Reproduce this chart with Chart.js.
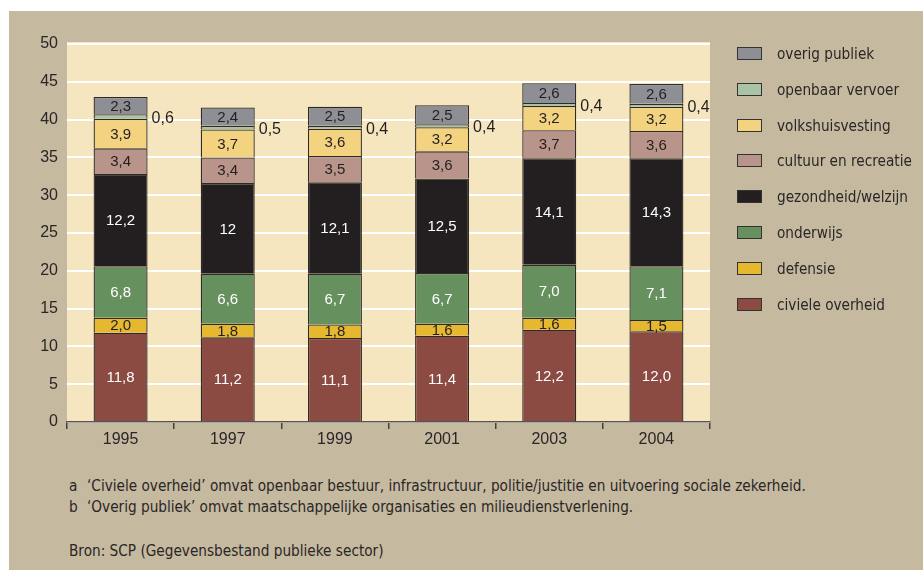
<!DOCTYPE html>
<html>
<head>
<meta charset="utf-8">
<script src="https://cdn.jsdelivr.net/npm/chart.js@4.4.1/dist/chart.umd.min.js"></script>
<style>
  html, body { margin: 0; padding: 0; background: #ffffff; }
  body { width: 923px; height: 570px; position: relative; overflow: hidden; font-family: "Liberation Sans", Arial, sans-serif; }
  #panel { position: absolute; left: 9px; top: 11px; width: 914px; height: 559px; background: #c5b9a0; }
  #wrap { position: absolute; left: 0; top: 0; width: 914px; height: 450px; }
  .legend-item { position: absolute; left: 728px; height: 20px; line-height: 20px; color: #2a2626; white-space: nowrap; font-family: "DejaVu Sans Condensed", "Liberation Sans", sans-serif; }
  .legend-box { position: absolute; left: 0; top: 3px; width: 23px; height: 11px; border: 1.5px solid #333; }
  .legend-text { position: absolute; left: 40px; top: 0; font-size: 15.2px; }
  .note { position: absolute; font-family: "DejaVu Sans Condensed", "Liberation Sans", sans-serif; font-size: 15.2px; color: #2a2626; white-space: nowrap; line-height: 20px; }
</style>
</head>
<body>
<div id="panel">
  <div id="wrap"><canvas id="c" width="914" height="450"></canvas></div>
  <div id="legend"></div>
  <div class="note" style="left:60px; top:465px;">a</div>
  <div class="note" style="left:78px; top:465px;">‘Civiele overheid’ omvat openbaar bestuur, infrastructuur, politie/justitie en uitvoering sociale zekerheid.</div>
  <div class="note" style="left:60px; top:486px;">b</div>
  <div class="note" style="left:78px; top:486px;">‘Overig publiek’ omvat maatschappelijke organisaties en milieudienstverlening.</div>
  <div class="note" style="left:60px; top:530px;">Bron: SCP (Gegevensbestand publieke sector)</div>
</div>
<script>
// ---- data ----
const years = ['1995', '1997', '1999', '2001', '2003', '2004'];
const civieleOverheid   = [11.8, 11.2, 11.1, 11.4, 12.2, 12.0];
const defensie          = [2.0, 1.8, 1.8, 1.6, 1.6, 1.5];
const onderwijs         = [6.8, 6.6, 6.7, 6.7, 7.0, 7.1];
const gezondheidWelzijn = [12.2, 12, 12.1, 12.5, 14.1, 14.3];
const cultuurRecreatie  = [3.4, 3.4, 3.5, 3.6, 3.7, 3.6];
const volkshuisvesting  = [3.9, 3.7, 3.6, 3.2, 3.2, 3.2];
const openbaarVervoer   = [0.6, 0.5, 0.4, 0.4, 0.4, 0.4];
const overigPubliek     = [2.3, 2.4, 2.5, 2.5, 2.6, 2.6];
const yTicks = [0, 5, 10, 15, 20, 25, 30, 35, 40, 45, 50];
// labels printed without decimal in the source
const printedAsInteger = [{ series: 'gezondheid/welzijn', year: '1997' }];

const seriesDefs = [
  { label: 'civiele overheid',     data: civieleOverheid,   color: '#8b4a42', text: '#ffffff' },
  { label: 'defensie',             data: defensie,          color: '#e6b830', text: '#231f20' },
  { label: 'onderwijs',            data: onderwijs,         color: '#66915f', text: '#ffffff' },
  { label: 'gezondheid/welzijn',   data: gezondheidWelzijn, color: '#231f20', text: '#ffffff' },
  { label: 'cultuur en recreatie', data: cultuurRecreatie,  color: '#b9948a', text: '#231f20' },
  { label: 'volkshuisvesting',     data: volkshuisvesting,  color: '#f3d37f', text: '#231f20' },
  { label: 'openbaar vervoer',     data: openbaarVervoer,   color: '#a9c4a5', text: '#231f20', outside: true },
  { label: 'overig publiek',       data: overigPubliek,     color: '#8e8f94', text: '#231f20' }
];

function fmt(v, series, year) {
  if (printedAsInteger.some(p => p.series === series && p.year === year)) return String(Math.round(v));
  return v.toFixed(1).replace('.', ',');
}

const bgPlugin = {
  id: 'plotBg',
  beforeDraw(chart) {
    const a = chart.chartArea, ctx = chart.ctx;
    ctx.save();
    ctx.fillStyle = '#f5e6bf';
    ctx.fillRect(a.left, a.top - 2, a.right - a.left, a.bottom - a.top + 2);
    ctx.restore();
  }
};

const labelPlugin = {
  id: 'segLabels',
  afterDatasetsDraw(chart) {
    const ctx = chart.ctx;
    ctx.save();
    chart.data.datasets.forEach((ds, di) => {
      const meta = chart.getDatasetMeta(di);
      meta.data.forEach((bar, i) => {
        const v = ds.data[i];
        const txt = fmt(v, ds.label, years[i]);
        const yMid = (bar.y + bar.base) / 2;
        ctx.fillStyle = ds._text;
        ctx.textBaseline = 'middle';
        if (ds._outside) {
          ctx.font = '16px "Liberation Sans", Arial, sans-serif';
          ctx.textAlign = 'left';
          ctx.fillText(txt, bar.x + bar.width / 2 + 4, yMid + 2);
        } else {
          ctx.font = '15px "Liberation Sans", Arial, sans-serif';
          ctx.textAlign = 'center';
          ctx.fillText(txt, bar.x, yMid + 1);
        }
      });
    });
    ctx.restore();
  }
};

new Chart(document.getElementById('c'), {
  type: 'bar',
  data: {
    labels: years,
    datasets: seriesDefs.map(s => ({
      label: s.label,
      data: s.data,
      backgroundColor: s.color,
      borderColor: '#2e2a2a',
      borderWidth: 1.3,
      borderSkipped: 'bottom',
      barPercentage: 1,
      categoryPercentage: 0.504,
      _text: s.text,
      _outside: !!s.outside
    }))
  },
  options: {
    responsive: false,
    animation: false,
    devicePixelRatio: 1,
    layout: { padding: { left: 0, right: 213, top: 33, bottom: 9 } },
    plugins: { legend: { display: false }, tooltip: { enabled: false } },
    scales: {
      x: {
        stacked: true,
        afterFit(s) { s.height = 30; },
        grid: { offset: true, drawOnChartArea: false, drawTicks: true, tickLength: 7, color: '#45413c', lineWidth: 1.5 },
        border: { display: true, color: '#57534d', width: 1.5 },
        ticks: { color: '#2a2626', font: { size: 16, family: '"Liberation Sans", Arial, sans-serif' }, padding: 1 }
      },
      y: {
        stacked: true,
        min: 0, max: 50,
        afterFit(s) { s.width = 58; },
        afterBuildTicks(s) { s.ticks = yTicks.map(v => ({ value: v })); },
        grid: { color: '#ffffff', lineWidth: 2, drawTicks: false },
        border: { display: false },
        ticks: { color: '#2a2626', font: { size: 16, family: '"Liberation Sans", Arial, sans-serif' }, padding: 9 }
      }
    }
  },
  plugins: [bgPlugin, labelPlugin]
});

// HTML legend, reversed order (top = overig publiek)
const legend = document.getElementById('legend');
seriesDefs.slice().reverse().forEach((s, k) => {
  const item = document.createElement('div');
  item.className = 'legend-item';
  item.style.top = (33 + k * 35.8) + 'px';
  const box = document.createElement('div');
  box.className = 'legend-box';
  box.style.background = s.color;
  const t = document.createElement('div');
  t.className = 'legend-text';
  t.textContent = s.label;
  item.appendChild(box); item.appendChild(t);
  legend.appendChild(item);
});
</script>
</body>
</html>
